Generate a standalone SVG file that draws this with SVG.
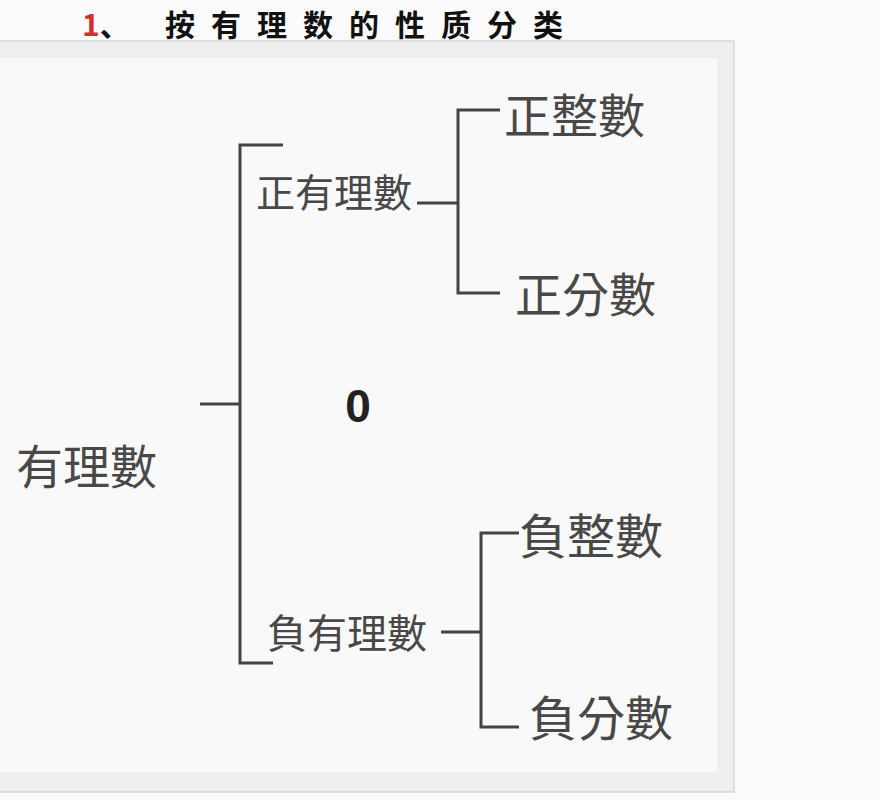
<svg xmlns="http://www.w3.org/2000/svg" width="880" height="800" viewBox="0 0 880 800">
<style>
.cjk{font-family:"Noto Sans CJK TC","Noto Sans CJK SC",sans-serif;font-weight:400;fill:#484848}
.ln{fill:none;stroke:#444;stroke-width:3;stroke-linecap:butt;stroke-linejoin:miter}
.head{font-family:"Noto Sans CJK SC","Noto Sans CJK TC",sans-serif;font-weight:700;fill:#111;font-size:30px}
</style>
<rect x="0" y="0" width="880" height="800" fill="#fbfbfb"/>
<g id="frame">
<rect x="-2" y="41" width="736" height="751" fill="#efefef" stroke="#d6d6d6" stroke-width="1.5"/>
<rect x="-2" y="58" width="719" height="714" fill="#f9f9f9"/>
</g>
<g id="heading">
<text class="head" x="82" y="36"><tspan fill="#d03030">1</tspan><tspan>、</tspan></text>
<text class="head" x="165" y="36" letter-spacing="16">按有理数的性质分类</text>
</g>
<g id="connectors">
<path class="ln" d="M200 404H240"/>
<path class="ln" d="M283 145H240V663H273"/>
<path class="ln" d="M417 203H458"/>
<path class="ln" d="M500 110H458V293H500"/>
<path class="ln" d="M441 632H481"/>
<path class="ln" d="M519 533H481V727H519"/>
</g>
<g id="n-rational"><text class="cjk" x="16" y="484" font-size="47">有理數</text></g>
<g id="n-pos-rational"><text class="cjk" x="256" y="207" font-size="39">正有理數</text></g>
<g id="n-pos-int"><text class="cjk" x="504" y="133" font-size="47">正整數</text></g>
<g id="n-pos-frac"><text class="cjk" x="515" y="312" font-size="47">正分數</text></g>
<g id="n-zero"><text x="358" y="422" font-size="46" font-weight="700" text-anchor="middle" font-family="Liberation Sans, Arial, sans-serif" fill="#222">0</text></g>
<g id="n-neg-rational"><text class="cjk" x="267" y="648" font-size="40">負有理數</text></g>
<g id="n-neg-int"><text class="cjk" x="519" y="554" font-size="48">負整數</text></g>
<g id="n-neg-frac"><text class="cjk" x="529" y="736" font-size="48">負分數</text></g>
</svg>
